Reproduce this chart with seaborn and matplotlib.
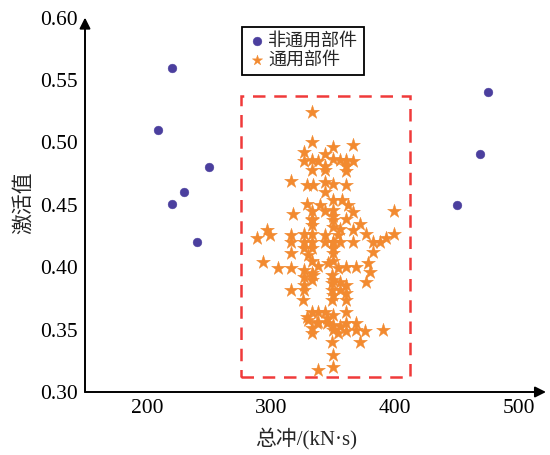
import matplotlib
matplotlib.use("Agg")
import matplotlib.pyplot as plt
import seaborn as sns
import pandas as pd
from matplotlib.patches import Rectangle

sns.set_style("white")
plt.rcParams['font.family'] = ['Liberation Serif', 'Noto Sans CJK SC']
plt.rcParams['axes.unicode_minus'] = False

# 非通用部件 (blue circles)
noncommon_x = [209, 220, 220, 230, 250, 240, 450, 469, 475]
noncommon_y = [0.510, 0.560, 0.451, 0.460, 0.480, 0.420, 0.450, 0.491, 0.540]

# 通用部件 (orange stars)
common_x = [
    333, 333, 327, 350, 344, 366, 327, 333, 338, 344, 350, 356, 361, 366, 361,
    333, 344, 361, 316, 329, 334, 344, 350, 361, 344, 329, 339.5, 350, 357, 362,
    350, 344, 333, 366, 318, 333, 361, 350, 399, 333, 372, 350, 356, 366, 296.5,
    299, 288.5, 316, 327, 333, 344, 354, 377, 399, 393,
    316, 327, 333, 343.5, 350, 356, 366, 382.5, 388,
    316, 330, 350, 382.5, 294, 306, 316, 327, 338, 346, 354, 361, 369, 378.5, 380,
    327, 334, 349, 356, 377, 327, 349, 361, 316, 327, 349, 356, 361, 326, 349, 361,
    333, 338, 343.5, 350, 361, 330, 337, 345, 350, 356, 361, 369, 333, 333, 350,
    361, 369, 376, 390.5, 354, 349, 372, 350, 350, 338,
    333, 333, 350, 350, 350, 333, 333, 350, 350, 338, 345, 329, 333, 350, 327,
]
common_y = [
    0.524, 0.500, 0.492, 0.496, 0.491, 0.498, 0.485, 0.486, 0.485, 0.481, 0.487, 0.486, 0.486, 0.485, 0.481,
    0.478, 0.478, 0.477, 0.469, 0.466, 0.466, 0.468, 0.467, 0.466, 0.460, 0.451, 0.450, 0.454, 0.454, 0.450,
    0.446, 0.445, 0.445, 0.444, 0.443, 0.439, 0.439, 0.438, 0.445, 0.434, 0.435, 0.432, 0.431, 0.430, 0.430,
    0.426, 0.423, 0.426, 0.427, 0.427, 0.426, 0.426, 0.427, 0.427, 0.423,
    0.420, 0.420, 0.420, 0.420, 0.420, 0.420, 0.420, 0.420, 0.420,
    0.411, 0.410, 0.411, 0.412, 0.404, 0.399, 0.399, 0.398, 0.401, 0.403, 0.399, 0.400, 0.400, 0.403, 0.396,
    0.392, 0.394, 0.394, 0.388, 0.388, 0.386, 0.387, 0.386, 0.382, 0.382, 0.382, 0.382, 0.379, 0.374, 0.374, 0.374,
    0.364, 0.364, 0.364, 0.362, 0.364, 0.358, 0.355, 0.355, 0.354, 0.353, 0.355, 0.355, 0.351, 0.347, 0.350,
    0.349, 0.350, 0.349, 0.350, 0.347, 0.340, 0.340, 0.330, 0.320, 0.318,
    0.415, 0.405, 0.420, 0.415, 0.405, 0.395, 0.390, 0.390, 0.378, 0.356, 0.359, 0.360, 0.438, 0.441, 0.415,
]

labels = ['非通用部件', '通用部件']
xticks = [200, 300, 400, 500]
yticks = [0.30, 0.35, 0.40, 0.45, 0.50, 0.55, 0.60]
xlim = (150, 522)
ylim = (0.30, 0.60)
box_x = (276, 412)
box_y = (0.312, 0.537)

df_nc = pd.DataFrame({'x': noncommon_x, 'y': noncommon_y})
df_c = pd.DataFrame({'x': common_x, 'y': common_y})

fig = plt.figure(figsize=(5.5, 4.55), dpi=100)
ax = fig.add_axes([85 / 550, 63 / 455, 461 / 550, 374.4 / 455])

sns.scatterplot(data=df_nc, x='x', y='y', ax=ax, color='#4b3f9e', marker='o',
                s=40, edgecolor='#4b3f9e', linewidth=0.3, label=labels[0], zorder=3)
sns.scatterplot(data=df_c, x='x', y='y', ax=ax, color='#f28a30', marker='*',
                s=110, edgecolor='#f28a30', linewidth=0.3, label=labels[1], zorder=3)

ax.add_patch(Rectangle((box_x[0], box_y[0]), box_x[1] - box_x[0], box_y[1] - box_y[0],
                       fill=False, edgecolor='#f03a3a', lw=1.8, ls=(0, (5, 3.5)), zorder=2))

ax.set_xlim(*xlim)
ax.set_ylim(*ylim)
ax.set_xticks(xticks)
ax.set_yticks(yticks)
ax.set_xticklabels([str(v) for v in xticks])
ax.set_yticklabels([f'{v:.2f}' for v in yticks])
ax.tick_params(axis='both', direction='in', length=5, width=1.2, labelsize=15.5,
               colors='black', pad=5)
ax.yaxis.get_major_ticks()[-1].tick1line.set_visible(False)
ax.yaxis.get_major_ticks()[0].tick1line.set_visible(False)

for sp in ax.spines.values():
    sp.set_visible(False)

ax.annotate('', xy=(1.0, 0), xytext=(0, 0), xycoords='axes fraction',
            arrowprops=dict(arrowstyle='-|>', color='black', lw=1.4, mutation_scale=16,
                            shrinkA=0, shrinkB=0))
ax.annotate('', xy=(0, 1.0), xytext=(0, 0), xycoords='axes fraction',
            arrowprops=dict(arrowstyle='-|>', color='black', lw=1.4, mutation_scale=16,
                            shrinkA=0, shrinkB=0))

ax.set_xlabel('总冲/(kN·s)', fontsize=15)
ax.set_ylabel('激活值', fontsize=15)
ax.xaxis.set_label_coords(0.48, -0.095)
ax.yaxis.set_label_coords(-0.11, 0.505)

leg = ax.legend(loc='upper center', bbox_to_anchor=(0.473, 0.975), fontsize=13,
                frameon=True, fancybox=False, framealpha=1, edgecolor='black',
                handletextpad=0.15, handlelength=1.0, borderpad=0.3, labelspacing=0.15,
                borderaxespad=0)
leg.get_frame().set_linewidth(1.3)
leg_handles = getattr(leg, 'legend_handles', None) or leg.legendHandles
leg_handles[0].set_sizes([40])
leg_handles[1].set_sizes([60])

fig.savefig('out.png', dpi=100)
